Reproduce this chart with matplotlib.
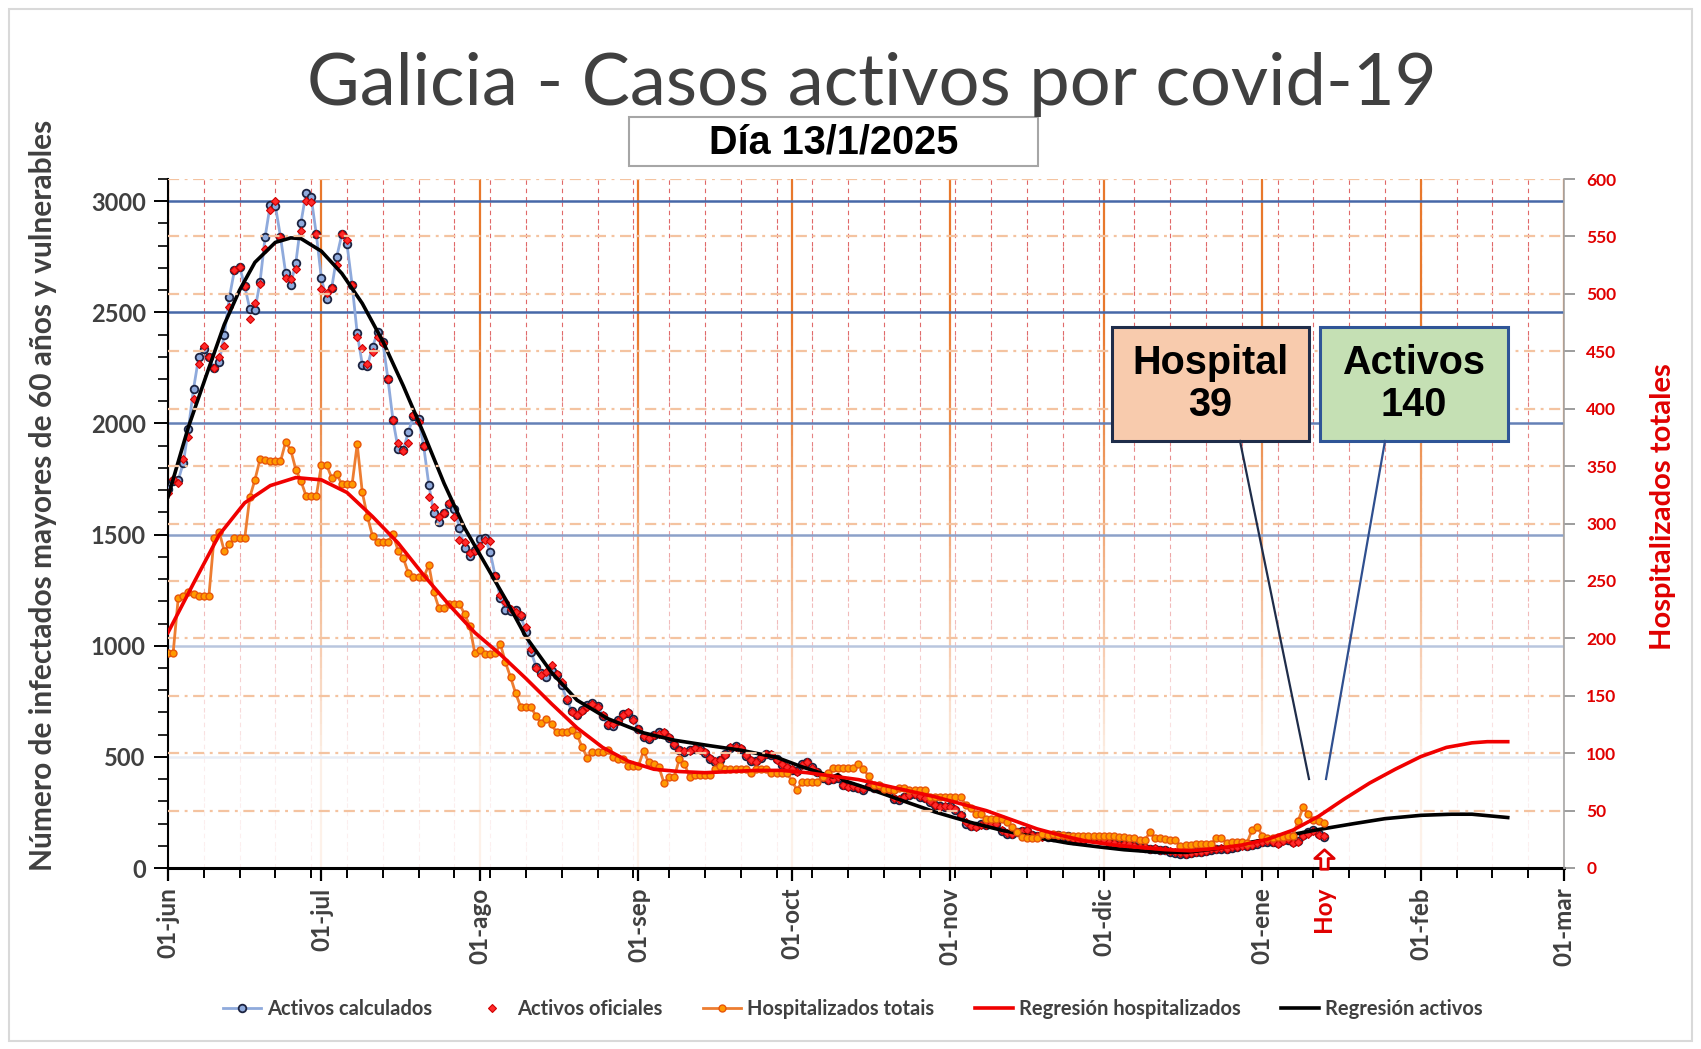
import matplotlib
matplotlib.use("Agg")
import matplotlib.pyplot as plt
import matplotlib.transforms as mtransforms
import matplotlib.dates as mdates
import matplotlib.colors as mcolors
from matplotlib.collections import LineCollection
from matplotlib.patches import Rectangle
from matplotlib.lines import Line2D
from matplotlib.path import Path
import numpy as np
import pandas as pd

# ---- data ----
start = pd.Timestamp("2024-06-01")
end = pd.Timestamp("2025-03-01")

activos_calculados = [
    1707, 1740, 1745, 1823, 1977, 2157, 2297, 2334, 2297, 2250,
    2277, 2397, 2567, 2690, 2705, 2619, 2514, 2510, 2637, 2840,
    2985, 2979, 2840, 2678, 2625, 2723, 2903, 3038, 3017, 2852,
    2653, 2558, 2608, 2750, 2852, 2807, 2625, 2405, 2265, 2259,
    2345, 2410, 2367, 2202, 2015, 1887, 1880, 1962, 2033, 2022,
    1898, 1725, 1595, 1557, 1598, 1637, 1617, 1530, 1440, 1403,
    1430, 1482, 1485, 1422, 1313, 1217, 1160, 1157, 1160, 1133,
    1062, 972, 905, 878, 860, 887, 867, 822, 755, 707,
    687, 710, 732, 743, 728, 685, 645, 640, 666, 694,
    697, 670, 627, 590, 580, 597, 610, 608, 584, 555,
    530, 522, 533, 535, 535, 516, 492, 477, 488, 513,
    540, 548, 537, 505, 481, 481, 497, 513, 510, 490,
    465, 450, 441, 435, 468, 475, 455, 430, 405, 398,
    400, 407, 372, 368, 365, 362, 353, 368, 362, 368,
    353, 342, 312, 308, 320, 327, 335, 320, 317, 297,
    282, 278, 275, 278, 263, 237, 200, 188, 188, 197,
    192, 203, 200, 167, 155, 155, 162, 167, 167, 147,
    143, 143, 140, 140, 147, 140, 143, 128, 125, 128,
    137, 137, 137, 125, 117, 110, 107, 110, 107, 98,
    95, 92, 87, 85, 83, 80, 72, 68, 65, 65,
    68, 70, 72, 77, 83, 87, 87, 87, 92, 95,
    102, 98, 105, 110, 117, 117, 117, 113, 125, 128,
    115, 120, 147, 162, 170, 155, 140,
]

activos_oficiales = [
    1685, 1752, 1733, 1838, 1940, 2110, 2267, 2350, 2297, 2250,
    2297, 2350, 2525, 2690, 2705, 2619, 2468, 2543, 2627, 2785,
    2962, 3000, 2840, 2653, 2648, 2693, 2868, 3000, 2996, 2852,
    2603, 2588, 2608, 2712, 2852, 2825, 2625, 2387, 2338, 2267,
    2322, 2390, 2360, 2202, 2015, 1910, 1877, 1910, 2037, 2007,
    1898, 1667, 1625, 1580, 1595, 1640, 1577, 1475, 1467, 1418,
    1427, 1448, 1475, 1472, 1313, 1230, 1195, 1165, 1150, 1140,
    1085, 985, 900, 870, 880, 915, 875, 835, 760, 700,
    690, 705, 725, 740, 725, 690, 650, 650, 660, 690,
    700, 665, 625, 595, 585, 600, 605, 612, 590, 560,
    532, 525, 528, 538, 530, 520, 495, 480, 485, 510,
    545, 545, 540, 508, 485, 478, 500, 512, 515, 488,
    468, 455, 445, 432, 465, 478, 452, 432, 410, 395,
    402, 410, 375, 365, 368, 360, 355, 370, 360, 365,
    350, 345, 315, 310, 318, 330, 332, 322, 315, 300,
    285, 275, 278, 275, 265, 240, 205, 190, 185, 195,
    195, 200, 198, 170, 158, 152, 160, 165, 170, 150,
    145, 140, 142, 138, 145, 142, 140, 130, 127, 125,
    135, 140, 135, 128, 115, 112, 105, 108, 110, 100,
    93, 95, 85, 88, 80, 82, 75, 70, 68, 63,
    66, 72, 74, 75, 85, 85, 90, 85, 95, 93,
    100, 100, 103, 112, 115, 120, 115, 110, 122, 130,
    112, 118, 145, 155, 165, 150, 143,
]

hospitalizados = [
    187, 187, 235, 237, 240, 239, 237, 237, 237, 287,
    293, 276, 282, 287, 287, 287, 323, 338, 356, 355,
    354, 354, 354, 371, 364, 347, 337, 324, 324, 324,
    351, 351, 340, 343, 334, 334, 334, 369, 327, 306,
    289, 284, 284, 284, 291, 276, 270, 257, 253, 253,
    253, 264, 240, 226, 226, 230, 230, 230, 221, 211,
    187, 190, 186, 186, 187, 195, 179, 166, 152, 140,
    140, 140, 132, 126, 130, 125, 118, 118, 118, 120,
    116, 105, 96, 101, 101, 101, 103, 97, 95, 95,
    89, 89, 89, 102, 92, 91, 88, 74, 79, 79,
    95, 91, 79, 81, 81, 81, 81, 86, 89, 86,
    86, 86, 86, 86, 83, 86, 86, 86, 83, 83,
    83, 83, 76, 68, 75, 75, 75, 75, 79, 83,
    87, 87, 87, 87, 87, 91, 86, 80, 72, 72,
    69, 69, 68, 70, 70, 68, 68, 68, 68, 62,
    62, 62, 62, 62, 62, 62, 55, 52, 47, 47,
    43, 43, 43, 43, 40, 36, 31, 27, 26, 26,
    26, 30, 29, 30, 29, 29, 28, 28, 28, 28,
    28, 28, 28, 28, 28, 28, 27, 27, 26, 26,
    24, 24, 31, 26, 26, 25, 24, 24, 19, 20,
    20, 21, 21, 21, 21, 26, 26, 22, 23, 23,
    23, 22, 33, 36, 28, 26, 26, 27, 27, 28,
    28, 41, 53, 47, 42, 41, 39,
]

reg_hosp_days = [0, 5, 10, 15, 20, 25, 30, 35, 40, 45, 50, 55, 60, 65, 70, 75, 80, 85,
                 90, 95, 100, 105, 110, 115, 120, 125, 130, 135, 140, 145, 150, 155, 160,
                 165, 170, 175, 180, 185, 190, 195, 200, 205, 210, 215, 220, 225, 230,
                 235, 240, 245, 250, 255, 258, 262]
reg_hosp = [205, 248, 290, 318, 333, 340, 338, 327, 306, 283, 255, 229, 205, 186, 165,
            143, 122, 105, 93, 86, 84, 83, 84, 85, 85, 83, 80, 77, 72, 67, 62, 56, 50,
            42, 34, 28, 23, 20, 18, 16, 15, 17, 20, 25, 33, 45, 60, 74, 86, 97, 105,
            109, 110, 110]

reg_act_days = [0, 4, 8, 11, 14, 17, 21, 24, 26, 30, 34, 38, 42, 46, 50, 54, 58, 62, 66,
                70, 75, 80, 86, 93, 99, 106, 112, 119, 124, 128, 130, 131, 132, 137, 144,
                150, 157, 163, 170, 176, 182, 187, 193, 199, 205, 212, 219, 225, 232, 238,
                245, 251, 255, 262]
reg_act = [1670, 1985, 2250, 2445, 2600, 2725, 2815, 2835, 2832, 2775, 2675, 2540, 2370,
           2170, 1955, 1730, 1530, 1370, 1210, 1040, 880, 755, 672, 608, 575, 550, 530,
           498, 455, 425, 410, 420, 395, 357, 300, 252, 205, 170, 137, 112, 95, 82, 72,
           70, 87, 117, 147, 173, 200, 222, 237, 242, 242, 227]

month_labels = ["01-jun", "01-jul", "01-ago", "01-sep", "01-oct", "01-nov",
                "01-dic", "01-ene", "01-feb", "01-mar"]
hoy = pd.Timestamp("2025-01-13")
hospital_hoy = 39
activos_hoy = 140

W, H = 1701, 1049


def fx(px):
    return px / W


def fy(py):
    return 1 - py / H


# gridline fade towards white lower down (Excel gradient lines)
fade_v = [0, 500, 1000, 1500, 2000, 2500, 3100]
fade_a = [0.9, 0.88, 0.62, 0.38, 0.16, 0.0, 0.0]


def faded(color, v):
    f = np.interp(v, fade_v, fade_a)
    rgb = np.array(mcolors.to_rgb(color))
    return tuple(rgb + (1 - rgb) * f)


dates = start + pd.to_timedelta(np.arange(len(activos_calculados)), unit="D")
reg_hosp_dates = start + pd.to_timedelta(reg_hosp_days, unit="D")
reg_act_dates = start + pd.to_timedelta(reg_act_days, unit="D")
months = pd.date_range(start, end, freq="MS")
weeks = pd.date_range(start, end, freq="7D")

fig = plt.figure(figsize=(W / 100, H / 100), dpi=100)
ax = fig.add_axes([fx(168), fy(868), fx(1564) - fx(168), fy(179) - fy(868)])
ax2 = ax.twinx()
ax.set_xlim(start, end)
ax.set_ylim(0, 3100)
ax2.set_ylim(0, 600)


def gradient_vline(x, color, step, **kw):
    xn = mdates.date2num(x)
    edges = np.arange(0, 3101, step)
    segs = [[(xn, a), (xn, b)] for a, b in zip(edges[:-1], edges[1:])]
    cols = [faded(color, (a + b) / 2) for a, b in zip(edges[:-1], edges[1:])]
    ax.add_collection(LineCollection(segs, colors=cols, **kw), autolim=False)


for w in weeks:
    gradient_vline(w, "#E06868", 100, linewidths=0.8, linestyles=[(0, (4, 3.5))], zorder=0.1)
for m in months:
    gradient_vline(m, "#E8782C", 50, linewidths=1.6, zorder=0.2)
for v in range(500, 3001, 500):
    ax.axhline(v, color=faded("#4668A8", v), lw=1.8, zorder=0.3)

l1, = ax.plot(dates, activos_calculados, color="#8FAADC", lw=2, marker="o", ms=5.5,
              mfc="#8FAADC", mec="#1C2340", mew=1.3, zorder=3, label="Activos calculados")
l2, = ax.plot(dates, activos_oficiales, ls="none", marker="D", ms=4.5, mfc="#FF2A2A",
              mec="#D00000", mew=0.8, zorder=4, label="Activos oficiales")
l5, = ax.plot(reg_act_dates, reg_act, color="black", lw=2.6, zorder=5,
              label="Regresión activos")

# right axis grid + hospital data
for h in range(50, 601, 50):
    ax2.axhline(h, color="#F4C3A0", lw=1.6, ls=(0, (5, 2.5, 1.3, 2.5)), zorder=0.5)
l3, = ax2.plot(dates, hospitalizados, color="#ED7D31", lw=2, marker="o", ms=5,
               mfc="#FF9A00", mec="#E8560A", mew=1, zorder=2, label="Hospitalizados totais")
l4, = ax2.plot(reg_hosp_dates, reg_hosp, color="#F00000", lw=2.6, zorder=3,
               label="Regresión hospitalizados")

ax.set_xlim(start, end)
ax.set_ylim(0, 3100)
ax2.set_ylim(0, 600)

ax.set_xticks(months)
ax.set_xticklabels(month_labels, rotation=90, fontsize=17.5, fontweight="bold",
                   color="#404040", family="Lato")
ax.set_xticks(weeks, minor=True)
ax.set_yticks(range(0, 3001, 500))
ax.set_yticks(range(0, 3101, 100), minor=True)
for t in ax.get_yticklabels():
    t.set_fontsize(17)
    t.set_fontweight("bold")
    t.set_color("#404040")
    t.set_family("Lato")
ax2.set_yticks(range(0, 601, 50))
for t in ax2.get_yticklabels():
    t.set_fontsize(12.5)
    t.set_fontweight("bold")
    t.set_color("#E00000")
    t.set_family("Lato")

ax.tick_params(axis="x", which="major", length=9, width=1.6, pad=5, color="black")
ax.tick_params(axis="x", which="minor", length=7, width=1.4, color="black")
ax.tick_params(axis="y", which="major", length=10, width=1.4, pad=6, color="black")
ax.tick_params(axis="y", which="minor", length=7, width=1.2, color="black")
ax2.tick_params(axis="y", length=8, width=1.2, pad=8, color="#8C8C8C")

ax.spines["top"].set_visible(False)
ax.spines["right"].set_visible(False)
ax.spines["left"].set_linewidth(1.5)
ax.spines["bottom"].set_linewidth(2.2)
for s in ("top", "left", "bottom"):
    ax2.spines[s].set_visible(False)
ax2.spines["right"].set_color("#A6A6A6")
ax2.spines["right"].set_linewidth(1.2)

ax.set_ylabel("Número de infectados mayores de 60 años y vulnerables", fontsize=21.5,
              fontweight="bold", color="#404040", family="Lato")
ax.yaxis.set_label_coords(fx(57), fy(495), transform=fig.transFigure)
ax2.set_ylabel("Hospitalizados totales", fontsize=21, fontweight="bold", color="#E00000",
               family="Lato")
ax2.yaxis.set_label_coords(fx(1650), fy(507), transform=fig.transFigure)

# "Hoy" label and outlined up-arrow on the axis
blend = mtransforms.blended_transform_factory(ax.transData, ax.transAxes)
ax.text(hoy, -0.027, "Hoy", transform=blend, rotation=90, ha="center", va="top",
        fontsize=17.5, fontweight="bold", color="#E00000", family="Lato")
arrow = Path([(0, 1), (1, 0.1), (0.38, 0.1), (0.38, -1), (-0.38, -1), (-0.38, 0.1),
              (-1, 0.1), (0, 1)], closed=True)
ax.plot([hoy], [0.0125], transform=blend, marker=arrow, ms=14, mfc="white",
        mec="#E00000", mew=2, ls="none", clip_on=False, zorder=6)

# title and date box
fig.text(fx(872), fy(105), "Galicia - Casos activos por covid-19", ha="center",
         va="baseline", fontsize=52, color="#404040", family="Lato")
fig.add_artist(Rectangle((fx(629), fy(166)), fx(1038) - fx(629), fy(117) - fy(166),
                         transform=fig.transFigure, fc="white", ec="#A6A6A6", lw=1.5))
fig.text(fx(834), fy(142), "Día 13/1/2025", ha="center", va="center", fontsize=28.5,
         fontweight="bold", color="black", family=["Liberation Sans", "DejaVu Sans"])

# callout boxes
fig.add_artist(Line2D([fx(1240), fx(1309)], [fy(441), fy(779)], color="#1F2D4A", lw=1.6))
fig.add_artist(Line2D([fx(1385), fx(1326)], [fy(441), fy(779)], color="#2F4F8F", lw=1.6))
fig.add_artist(Rectangle((fx(1112), fy(441)), fx(1309) - fx(1112), fy(327) - fy(441),
                         transform=fig.transFigure, fc="#F8CBAD", ec="#1F2D4A", lw=2.2))
fig.add_artist(Rectangle((fx(1320), fy(441)), fx(1508) - fx(1320), fy(327) - fy(441),
                         transform=fig.transFigure, fc="#C5E0B4", ec="#2F5597", lw=2.2))
fig.text(fx(1210), fy(384), f"Hospital\n{hospital_hoy}", ha="center", va="center",
         fontsize=28.5, fontweight="bold", linespacing=1.15,
         family=["Liberation Sans", "DejaVu Sans"])
fig.text(fx(1414), fy(384), f"Activos\n{activos_hoy}", ha="center", va="center",
         fontsize=28.5, fontweight="bold", linespacing=1.15,
         family=["Liberation Sans", "DejaVu Sans"])

# outer border
fig.add_artist(Rectangle((fx(9), fy(1041)), fx(1692) - fx(9), fy(9) - fy(1041),
                         transform=fig.transFigure, fill=False, ec="#D9D9D9", lw=1.5))

fig.legend([l1, l2, l3, l4, l5], [h.get_label() for h in (l1, l2, l3, l4, l5)],
           loc="center", bbox_to_anchor=(fx(853), fy(1009)), ncol=5, frameon=False,
           prop={"family": "Lato", "weight": "bold", "size": 14.5}, labelcolor="#404040",
           handlelength=1.9, columnspacing=2.0, handletextpad=0.3)

fig.savefig("out.png", dpi=100)
